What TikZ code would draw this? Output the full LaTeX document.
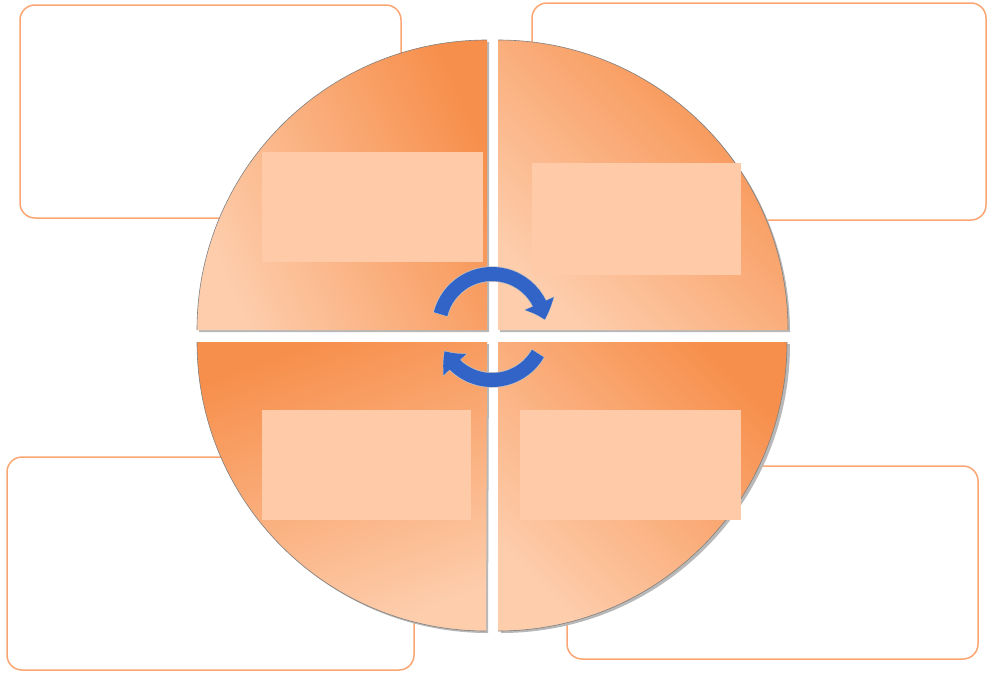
\documentclass[tikz,border=0pt]{standalone}
\usetikzlibrary{arrows.meta,bending}
\definecolor{odark}{RGB}{247,143,76}
\definecolor{olight}{RGB}{253,205,172}
\definecolor{rectfill}{RGB}{254,202,168}
\definecolor{boxline}{RGB}{251,166,114}
\definecolor{arrowblue}{RGB}{50,100,200}
\begin{document}
\begin{tikzpicture}[x=1pt,y=-1pt,
  infobox/.style={draw=boxline, line width=1.5pt, rounded corners=15pt, fill=white, inner sep=0pt},
  quadedge/.style={draw=black!50, line width=0.6pt},
  quadshadow/.style={fill=black!28},
  innerrect/.style={fill=rectfill, draw=none, inner sep=0pt},
  cycout/.style={draw=black!25, line width=15.5pt, -{Triangle[width=32pt,length=18.5pt,bend]}},
  cyc/.style={draw=arrowblue, line width=14pt, -{Triangle[width=30pt,length=17pt,bend]}}]
\useasboundingbox (0,0) rectangle (987,672);
\fill[white] (0,0) rectangle (987,672);

% outer text boxes
\node[infobox, minimum width=381pt, minimum height=213pt] (boxTL) at (210.5,111.5) {};
\node[infobox, minimum width=454pt, minimum height=217pt] (boxTR) at (759,111.5) {};
\node[infobox, minimum width=407pt, minimum height=213pt] (boxBL) at (210.5,563.5) {};
\node[infobox, minimum width=411pt, minimum height=193pt] (boxBR) at (772.5,562.5) {};

% quadrant shadows
\fill[quadshadow] (489,332) -- (199,332) arc[start angle=180,end angle=270,radius=290] -- cycle;
\fill[quadshadow] (500,332) -- (500,42) arc[start angle=270,end angle=360,radius=290] -- cycle;
\fill[quadshadow] (489,344) -- (199,344) arc[start angle=180,end angle=90,radius=289] -- cycle;
\fill[quadshadow] (500,344) -- (790,344) arc[start angle=0,end angle=90,radius=289] -- cycle;

% quadrants
\path[top color=odark, bottom color=olight, shading angle=-65] (487,330) -- (197,330) arc[start angle=180,end angle=270,radius=290] -- cycle;
\draw[quadedge] (197,330) arc[start angle=180,end angle=270,radius=290];
\path[top color=odark, bottom color=olight, shading angle=-45] (498,330) -- (498,40) arc[start angle=270,end angle=360,radius=290] -- cycle;
\draw[quadedge] (498,40) arc[start angle=270,end angle=360,radius=290];
\path[top color=odark, bottom color=olight, shading angle=20] (487,342) -- (197,342) arc[start angle=180,end angle=90,radius=289] -- cycle;
\draw[quadedge] (197,342) arc[start angle=180,end angle=90,radius=289];
\path[top color=odark, bottom color=olight, shading angle=-45] (498,342) -- (787,342) arc[start angle=0,end angle=90,radius=289] -- cycle;
\draw[quadedge] (787,342) arc[start angle=0,end angle=90,radius=289];

% inner light rectangles
\node[innerrect, minimum width=221pt, minimum height=110pt] (recTL) at (372.5,207) {};
\node[innerrect, minimum width=209pt, minimum height=112pt] (recTR) at (636.5,219) {};
\node[innerrect, minimum width=209pt, minimum height=110pt] (recBL) at (366.5,465) {};
\node[innerrect, minimum width=221pt, minimum height=110pt] (recBR) at (630.5,465) {};

% cycle arrows
\coordinate (cc) at (492,327);
\draw[cycout] (cc) ++(193.5:53) arc[start angle=193.5,end angle=353,radius=53];
\draw[cycout] (cc) ++(29.5:53) arc[start angle=29.5,end angle=154,radius=53];
\draw[cyc] (cc) ++(194:53) arc[start angle=194,end angle=352,radius=53];
\draw[cyc] (cc) ++(30:53) arc[start angle=30,end angle=153,radius=53];
\end{tikzpicture}
\end{document}
